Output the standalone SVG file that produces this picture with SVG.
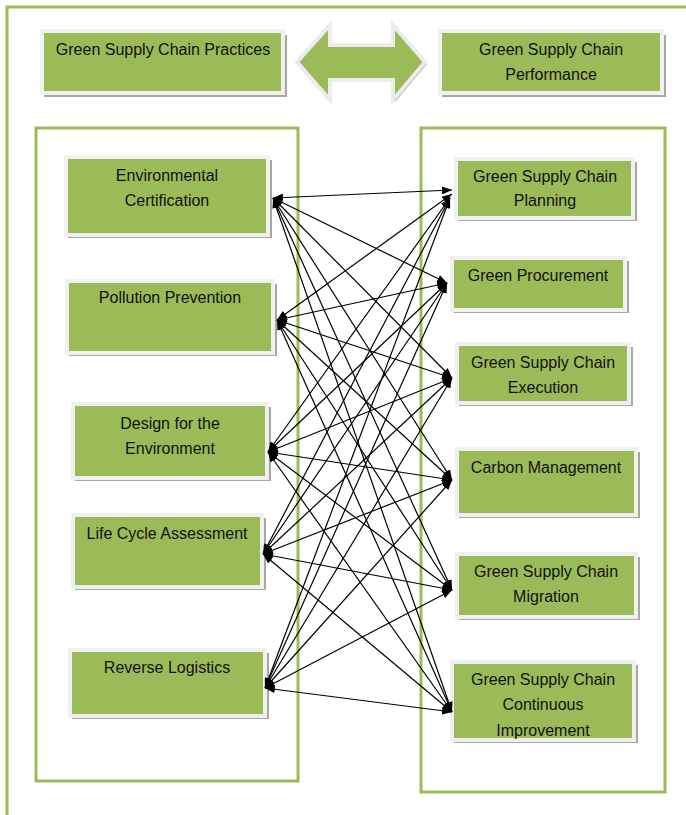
<svg xmlns="http://www.w3.org/2000/svg" width="686" height="815" viewBox="0 0 686 815">
<style>
.frame{fill:none;stroke:#9BBB59;stroke-width:3}
.box{fill:#9BBB59;stroke:#f0f0f0;stroke-width:4}
.sh{fill:#a8a8a0}
.t{font-family:"Liberation Sans",Arial,sans-serif;font-size:16px;fill:#111;text-anchor:middle}
.c line{stroke:#000;stroke-width:1.2;marker-start:url(#ah);marker-end:url(#ah)}
</style>
<defs>
<marker id="ah" viewBox="0 0 10 8" refX="10" refY="4" markerWidth="10" markerHeight="8" markerUnits="userSpaceOnUse" orient="auto-start-reverse">
<path d="M0,0 L10,4 L0,8 z" fill="#000"/>
</marker>
</defs>
<rect width="686" height="815" fill="#fff"/>
<path class="frame" d="M7,815 V7 H686"/>

<g id="top-practices">
<rect class="sh" x="44" y="35" width="243" height="62"/>
<rect class="box" x="42" y="31" width="241" height="62"/>
<text class="t" x="163" y="55">Green Supply Chain Practices</text>
</g>
<g id="double-arrow">
<polygon points="299,64 332,27 332,47 395,47 395,27 427,64 395,102 395,82 332,82 332,102" fill="#b0b0a8"/>
<polygon points="297,62 330,25 330,45 393,45 393,25 425,62 393,100 393,80 330,80 330,100" fill="#9BBB59" stroke="#ececec" stroke-width="4" stroke-linejoin="miter"/>
</g>
<g id="top-performance">
<rect class="sh" x="442" y="35" width="224" height="62"/>
<rect class="box" x="440" y="31" width="222" height="62"/>
<text class="t" x="551" y="55">Green Supply Chain</text>
<text class="t" x="551" y="80">Performance</text>
</g>

<rect id="left-container" class="frame" x="36" y="128" width="262" height="653"/>
<rect id="right-container" class="frame" x="421" y="128" width="244" height="664"/>

<g id="env-cert">
<rect class="sh" x="68" y="160" width="204" height="78"/>
<rect class="box" x="66" y="157" width="202" height="78"/>
<text class="t" x="167" y="181">Environmental</text>
<text class="t" x="167" y="206">Certification</text>
</g>
<g id="pollution">
<rect class="sh" x="69" y="284" width="208" height="72"/>
<rect class="box" x="67" y="281" width="206" height="72"/>
<text class="t" x="170" y="303">Pollution Prevention</text>
</g>
<g id="design">
<rect class="sh" x="75" y="407" width="196" height="74"/>
<rect class="box" x="73" y="404" width="194" height="74"/>
<text class="t" x="170" y="429">Design for the</text>
<text class="t" x="170" y="454">Environment</text>
</g>
<g id="lca">
<rect class="sh" x="75" y="518" width="191" height="72"/>
<rect class="box" x="73" y="515" width="189" height="72"/>
<text class="t" x="167" y="539">Life Cycle Assessment</text>
</g>
<g id="reverse">
<rect class="sh" x="72" y="653" width="197" height="66"/>
<rect class="box" x="70" y="650" width="195" height="66"/>
<text class="t" x="167" y="673">Reverse Logistics</text>
</g>

<g id="planning">
<rect class="sh" x="458" y="162" width="179" height="59"/>
<rect class="box" x="456" y="159" width="177" height="59"/>
<text class="t" x="545" y="182">Green Supply Chain</text>
<text class="t" x="545" y="206">Planning</text>
</g>
<g id="procurement">
<rect class="sh" x="454" y="261" width="175" height="52"/>
<rect class="box" x="452" y="258" width="173" height="52"/>
<text class="t" x="538" y="281">Green Procurement</text>
</g>
<g id="execution">
<rect class="sh" x="459" y="347" width="174" height="59"/>
<rect class="box" x="457" y="344" width="172" height="59"/>
<text class="t" x="543" y="368">Green Supply Chain</text>
<text class="t" x="543" y="393">Execution</text>
</g>
<g id="carbon">
<rect class="sh" x="459" y="452" width="181" height="66"/>
<rect class="box" x="457" y="449" width="179" height="66"/>
<text class="t" x="546" y="473">Carbon Management</text>
</g>
<g id="migration">
<rect class="sh" x="459" y="557" width="181" height="63"/>
<rect class="box" x="457" y="554" width="179" height="63"/>
<text class="t" x="546" y="577">Green Supply Chain</text>
<text class="t" x="546" y="602">Migration</text>
</g>
<g id="continuous">
<rect class="sh" x="454" y="665" width="184" height="78"/>
<rect class="box" x="452" y="662" width="182" height="78"/>
<text class="t" x="543" y="685">Green Supply Chain</text>
<text class="t" x="543" y="710">Continuous</text>
<text class="t" x="543" y="736">Improvement</text>
</g>

<g id="connectors" class="c">
<line x1="273" y1="198" x2="452" y2="190"/>
<line x1="273" y1="198" x2="447" y2="283"/>
<line x1="273" y1="198" x2="452" y2="378"/>
<line x1="273" y1="198" x2="452" y2="480"/>
<line x1="273" y1="198" x2="452" y2="590"/>
<line x1="273" y1="198" x2="452" y2="712"/>
<line x1="277" y1="320" x2="452" y2="194"/>
<line x1="277" y1="320" x2="447" y2="283"/>
<line x1="277" y1="320" x2="452" y2="378"/>
<line x1="277" y1="320" x2="452" y2="480"/>
<line x1="277" y1="320" x2="452" y2="590"/>
<line x1="277" y1="320" x2="452" y2="712"/>
<line x1="268" y1="452" x2="450" y2="198"/>
<line x1="268" y1="452" x2="447" y2="283"/>
<line x1="268" y1="452" x2="452" y2="378"/>
<line x1="268" y1="452" x2="452" y2="480"/>
<line x1="268" y1="452" x2="452" y2="590"/>
<line x1="268" y1="452" x2="452" y2="712"/>
<line x1="263" y1="554" x2="450" y2="198"/>
<line x1="263" y1="554" x2="447" y2="283"/>
<line x1="263" y1="554" x2="452" y2="378"/>
<line x1="263" y1="554" x2="452" y2="480"/>
<line x1="263" y1="554" x2="452" y2="590"/>
<line x1="263" y1="554" x2="452" y2="712"/>
<line x1="265" y1="688" x2="450" y2="198"/>
<line x1="265" y1="688" x2="447" y2="283"/>
<line x1="265" y1="688" x2="452" y2="378"/>
<line x1="265" y1="688" x2="452" y2="480"/>
<line x1="265" y1="688" x2="452" y2="590"/>
<line x1="265" y1="688" x2="452" y2="712"/>
</g>
</svg>
